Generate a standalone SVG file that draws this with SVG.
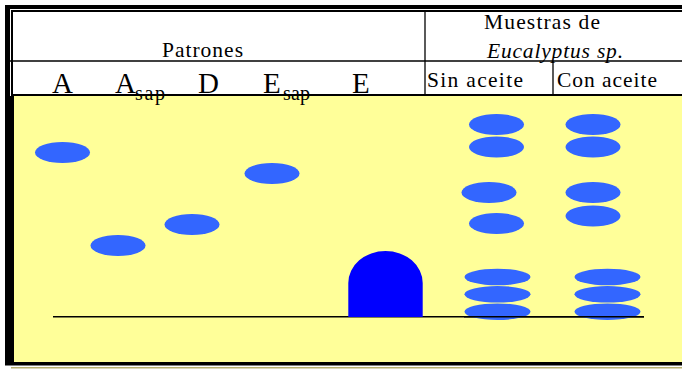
<svg xmlns="http://www.w3.org/2000/svg" width="682" height="370" viewBox="0 0 682 370">
<style>
.t{font-family:"Liberation Serif","Times New Roman",serif;fill:#000}
.h{font-size:21.5px}
.big{font-size:29px}
.sub{font-size:20px}
.band{fill:#3366FF}
.ln{stroke:#000;fill:none}
</style>
<defs>
<ellipse id="b" cx="0" cy="0" rx="27.5" ry="10.5"/>
<ellipse id="w" cx="0" cy="0" rx="33" ry="8.3"/>
</defs>
<rect x="0" y="0" width="682" height="370" fill="#fff"/>
<g id="frame">
<rect x="14" y="96" width="668" height="266" fill="#FFFF99"/>
<rect x="5" y="5" width="5" height="360" fill="#000"/>
<rect x="5" y="96" width="9" height="269" fill="#000"/>
<rect x="11" y="10" width="2" height="86" fill="#000"/>
<rect x="5" y="5" width="677" height="4" fill="#000"/>
<rect x="11" y="10" width="671" height="2" fill="#000"/>
<rect x="5" y="362" width="677" height="3.5" fill="#000"/>
<rect x="11" y="367" width="671" height="1.5" fill="#B8B070"/>
<line class="ln" x1="10" y1="61" x2="682" y2="61" stroke-width="1.3"/>
<line class="ln" x1="12" y1="95" x2="682" y2="95" stroke-width="2"/>
<line class="ln" x1="425" y1="10" x2="425" y2="95" stroke-width="1.3"/>
<line class="ln" x1="553" y1="61" x2="553" y2="95" stroke-width="1.3"/>
</g>
<g id="header">
<text class="t h" x="162" y="57" textLength="81" lengthAdjust="spacing">Patrones</text>
<text class="t h" x="484" y="28.5" textLength="116" lengthAdjust="spacing">Muestras de</text>
<text class="t h" x="487" y="58" font-style="italic" textLength="136" lengthAdjust="spacing">Eucalyptus sp.</text>
<text class="t h" x="427" y="87" textLength="96" lengthAdjust="spacing">Sin aceite</text>
<text class="t h" x="557" y="87" textLength="100" lengthAdjust="spacing">Con aceite</text>
<text class="t big" x="52" y="93">A</text>
<text class="t big" x="115" y="93">A</text>
<text class="t sub" x="135" y="99.5" textLength="30" lengthAdjust="spacing">sap</text>
<text class="t big" x="198" y="93">D</text>
<text class="t big" x="263" y="93">E</text>
<text class="t sub" x="283" y="99.5" textLength="27" lengthAdjust="spacing">sap</text>
<text class="t big" x="352" y="93">E</text>
</g>
<g id="baseline">
<line class="ln" x1="53" y1="316.8" x2="644" y2="316.8" stroke-width="1.6"/>
</g>
<g id="lane-A"><use href="#b" class="band" x="62.5" y="152.5"/></g>
<g id="lane-Asap"><use href="#b" class="band" x="118" y="245.5"/></g>
<g id="lane-D"><use href="#b" class="band" x="192" y="224.5"/></g>
<g id="lane-Esap"><use href="#b" class="band" x="272" y="173.5"/></g>
<g id="lane-E"><path d="M348.3,317 V283 A37.2,32 0 0 1 422.7,283 V317 Z" fill="#0000FF"/></g>
<g id="lane-sin">
<use href="#b" class="band" x="496.5" y="124.5"/>
<use href="#b" class="band" x="496.5" y="147"/>
<use href="#b" class="band" x="489" y="192.5"/>
<use href="#b" class="band" x="496.5" y="223.5"/>
<use href="#w" class="band" x="497.5" y="277"/>
<use href="#w" class="band" x="497.5" y="294.3"/>
<use href="#w" class="band" x="497.5" y="311.7"/>
</g>
<g id="lane-con">
<use href="#b" class="band" x="593" y="124.5"/>
<use href="#b" class="band" x="593" y="147"/>
<use href="#b" class="band" x="593" y="192.5"/>
<use href="#b" class="band" x="593" y="216"/>
<use href="#w" class="band" x="607.5" y="277"/>
<use href="#w" class="band" x="607.5" y="294.3"/>
<use href="#w" class="band" x="607.5" y="311.7"/>
</g>
<line class="ln" x1="464" y1="316.8" x2="644" y2="316.8" stroke-width="1.6"/>
</svg>
